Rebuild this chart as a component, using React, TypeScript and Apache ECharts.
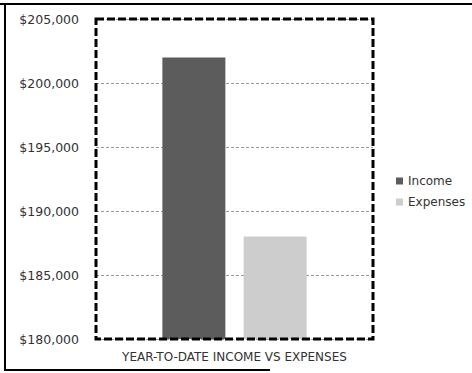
import React, { useEffect, useRef } from "react";
import * as echarts from "echarts";

const categories = ["YEAR-TO-DATE INCOME VS EXPENSES"];
const seriesNames = ["Income", "Expenses"];
const incomeValues = [202000];
const expenseValues = [188000];
const yMin = 180000;
const yMax = 205000;
const yStep = 5000;

const FONT = "DejaVu Sans";

export default function App() {
  const ref = useRef<HTMLDivElement>(null);
  useEffect(() => {
    const el = ref.current;
    if (!el) return;
    const chart = echarts.init(el, null, { renderer: "svg" });
    chart.setOption({
      animation: false,
      backgroundColor: "#ffffff",
      grid: { left: 96, top: 19, right: 99, bottom: 34, containLabel: false },
      legend: {
        orient: "vertical",
        left: 391,
        top: 170,
        itemWidth: 7,
        itemHeight: 7,
        itemGap: 9,
        icon: "rect",
        textStyle: { fontFamily: FONT, fontSize: 12, color: "#333" },
        data: seriesNames,
      },
      xAxis: {
        type: "category",
        data: categories,
        axisLine: { show: false },
        axisTick: { show: false },
        axisLabel: {
          fontFamily: FONT,
          fontSize: 12,
          color: "#333",
          margin: 12,
        },
      },
      yAxis: {
        type: "value",
        min: yMin,
        max: yMax,
        interval: yStep,
        axisLine: { show: false },
        axisTick: { show: false },
        splitLine: {
          show: true,
          lineStyle: { color: "#999", width: 1, type: [3, 2] },
        },
        axisLabel: {
          fontFamily: FONT,
          fontSize: 12.5,
          color: "#333",
          margin: 17,
          formatter: (v: number) => "$" + v.toLocaleString("en-US"),
        },
      },
      series: [
        {
          name: seriesNames[0],
          type: "bar",
          data: incomeValues,
          barWidth: 63,
          barGap: "29%",
          itemStyle: { color: "#5c5c5c" },
        },
        {
          name: seriesNames[1],
          type: "bar",
          data: expenseValues,
          barWidth: 63,
          itemStyle: { color: "#cdcdcd" },
        },
      ],
      graphic: [
        {
          type: "rect",
          shape: { x: 96, y: 19, width: 277, height: 320 },
          style: { fill: "none", stroke: "#000", lineWidth: 3, lineDash: [8, 3] },
          z: 100,
        },
        {
          type: "line",
          shape: { x1: 0, y1: 4, x2: 472, y2: 4 },
          style: { stroke: "#000", lineWidth: 2 },
        },
        {
          type: "line",
          shape: { x1: 5, y1: 3, x2: 5, y2: 371 },
          style: { stroke: "#000", lineWidth: 2 },
        },
        {
          type: "line",
          shape: { x1: 4, y1: 370, x2: 270, y2: 370 },
          style: { stroke: "#000", lineWidth: 2 },
        },
      ],
    });
    return () => chart.dispose();
  }, []);
  return (
    <div
      ref={ref}
      style={{ width: 472, height: 373, position: "absolute", left: 0, top: 0 }}
    />
  );
}
